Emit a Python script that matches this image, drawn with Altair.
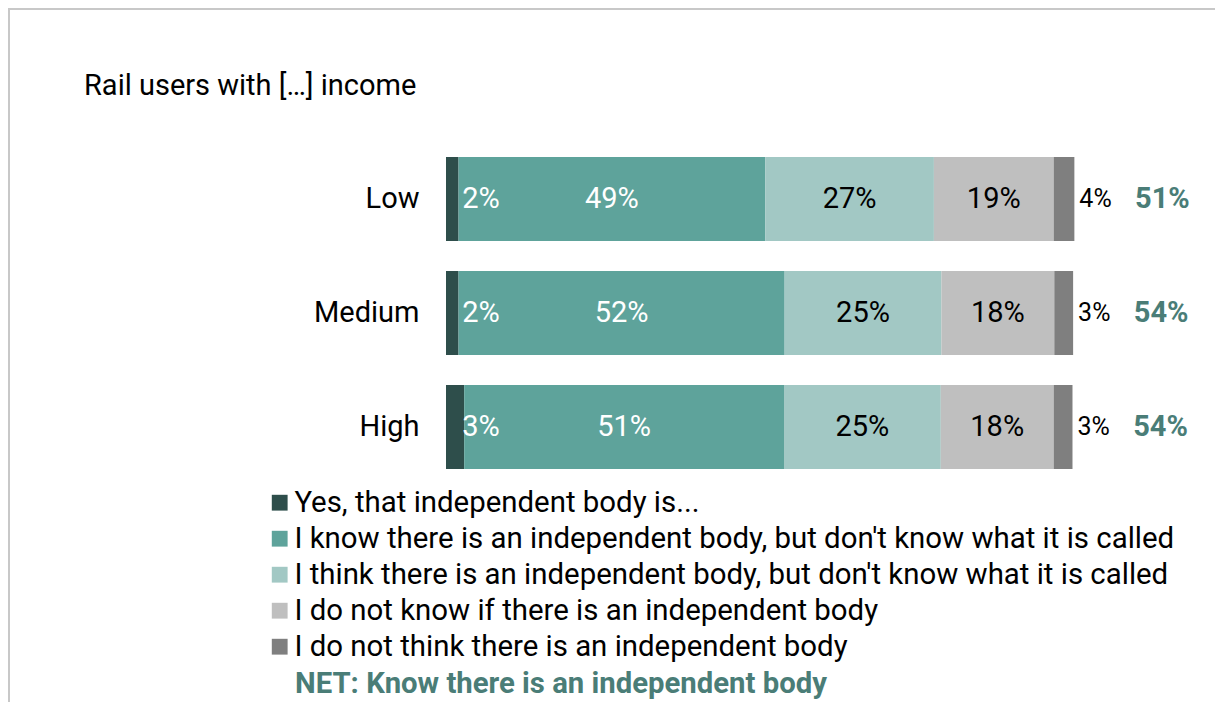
import altair as alt
import pandas as pd

groups = ["Low", "Medium", "High"]
categories = [
    "Yes, that independent body is...",
    "I know there is an independent body, but don't know what it is called",
    "I think there is an independent body, but don't know what it is called",
    "I do not know if there is an independent body",
    "I do not think there is an independent body",
]
# shown (rounded) percentages
low_labels = [2, 49, 27, 19, 4]
medium_labels = [2, 52, 25, 18, 3]
high_labels = [3, 51, 25, 18, 3]
# bar lengths (unrounded)
low_shares = [2.0, 48.9, 26.9, 19.1, 3.3]
medium_shares = [2.0, 52.0, 25.0, 18.0, 3.0]
high_shares = [2.9, 51.0, 25.0, 18.0, 3.0]
net_values = [51, 54, 54]
colors = ["#2e4e4b", "#5ea39b", "#a2c8c4", "#bfbfbf", "#7f7f7f"]
title_text = "Rail users with […] income"
net_label = "NET: Know there is an independent body"
net_color = "#4a7d77"
FONT = "Roboto"
FS = 29

rows = []
for g, shares, labels in zip(groups, [low_shares, medium_shares, high_shares],
                             [low_labels, medium_labels, high_labels]):
    for i, (c, v, l) in enumerate(zip(categories, shares, labels)):
        rows.append({"group": g, "cat": c, "order": i, "value": v, "label": f"{l}%"})
df = pd.DataFrame(rows)
net_map = {g: f"{v}%" for g, v in zip(groups, net_values)}
df["net"] = df["group"].map(net_map)

xs = alt.Scale(domain=[0, 100.3], nice=False, zero=True)
Y = alt.Y(
    "group:N",
    sort=groups,
    scale=alt.Scale(paddingInner=0.263, paddingOuter=0),
    axis=alt.Axis(title=None, ticks=False, domain=False, labelPadding=27,
                  labelFontSize=FS, labelColor="black", labelFont=FONT),
)

base = alt.Chart(df).transform_stack(
    stack="value", groupby=["group"], as_=["x0", "x1"], offset="zero",
    sort=[alt.SortField("order", order="ascending")],
).transform_calculate(mid="(datum.x0 + datum.x1) / 2")

bars = base.mark_bar().encode(
    x=alt.X("x0:Q", scale=xs, axis=None),
    x2="x1:Q",
    y=Y,
    color=alt.Color(
        "cat:N",
        scale=alt.Scale(domain=categories, range=colors),
        legend=alt.Legend(
            title=None, orient="none", legendX=-181, legendY=331, padding=0,
            symbolType="square", symbolSize=250, symbolStrokeWidth=0,
            labelFontSize=29.4, labelFont=FONT, labelColor="black",
            labelLimit=1200, labelOffset=0, rowPadding=5,
        ),
    ),
)

t_first = base.transform_filter("datum.order == 0").mark_text(
    dx=35, align="center", baseline="middle", color="white", fontSize=FS, font=FONT
).encode(x=alt.X("x0:Q", scale=xs, axis=None), y=Y, text="label:N")

t_white = base.transform_filter("datum.order == 1").mark_text(
    align="center", baseline="middle", color="white", fontSize=FS, font=FONT
).encode(x=alt.X("mid:Q", scale=xs, axis=None), y=Y, text="label:N")

t_black = base.transform_filter("datum.order == 2 || datum.order == 3").mark_text(
    align="center", baseline="middle", color="black", fontSize=FS, font=FONT
).encode(x=alt.X("mid:Q", scale=xs, axis=None), y=Y, text="label:N")

t_last = base.transform_filter("datum.order == 4").mark_text(
    dx=5, align="left", baseline="middle", color="black", fontSize=25, font=FONT
).encode(x=alt.X("x1:Q", scale=xs, axis=None), y=Y, text="label:N")

t_net = base.transform_filter("datum.order == 4").mark_text(
    dx=88, align="center", baseline="middle", color=net_color, fontSize=FS,
    fontWeight="bold", font=FONT
).encode(x=alt.X("x1:Q", scale=xs, axis=None), y=Y, text="net:N")

title = alt.Chart(pd.DataFrame({"t": [title_text]})).mark_text(
    align="left", baseline="alphabetic", fontSize=FS, font=FONT, color="black"
).encode(x=alt.value(-362), y=alt.value(-62), text="t:N")

net_note = alt.Chart(pd.DataFrame({"t": [net_label]})).mark_text(
    align="left", baseline="middle", fontSize=29.3, font=FONT, color=net_color,
    fontWeight="bold"
).encode(x=alt.value(-151), y=alt.value(527), text="t:N")

border = alt.Chart(pd.DataFrame({"a": [0]})).mark_rect(
    fillOpacity=0, stroke="#c8c8c8", strokeWidth=2
).encode(x=alt.value(-437), y=alt.value(-148), x2=alt.value(900), y2=alt.value(700))

chart = alt.layer(border, bars, t_first, t_white, t_black, t_last, t_net, title, net_note).properties(
    width=629, height=312,
    padding={"left": 438, "top": 149, "right": 140, "bottom": 233},
    autosize=alt.AutoSizeParams(type="none"),
).configure(font=FONT).configure_view(stroke=None)

chart.save("out.html", embed_options={"renderer": "svg", "actions": False})
